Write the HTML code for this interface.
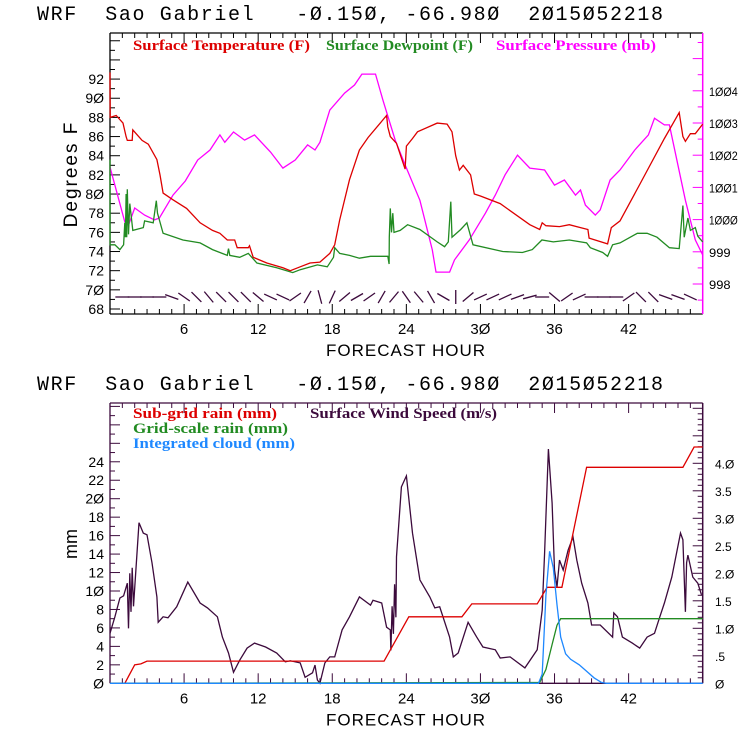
<!DOCTYPE html>
<html><head><meta charset="utf-8"><style>
body{margin:0;background:#fff;}
svg{display:block;}
text{font-family:"Liberation Sans",sans-serif;}
text.ttl{font-family:"Liberation Mono",monospace;white-space:pre;}
.lg{font-family:"Liberation Serif",serif;font-weight:bold;font-size:15px;}
</style></head><body>
<svg id="c" width="740" height="740" viewBox="0 0 740 740">
<rect width="740" height="740" fill="#fff"/>
</svg>
<script>
// ---- data: top panel ----
const tempH=[0,0.02,0.5,1.05,1.3,1.4,1.8,1.85,2.6,3.1,3.8,4.05,4.3,5.1,6.2,7.3,8.3,8.9,9.5,10.1,10.3,11.2,11.3,11.6,12.7,14.0,14.6,15.4,16.2,17.0,17.8,18.2,18.6,19.4,20.2,20.9,22.4,22.5,22.7,23.2,23.9,24.0,24.5,24.9,26.5,27.3,27.7,28.0,28.3,28.6,29.2,29.5,30.0,31.6,34.0,34.8,35.0,35.3,36.4,37.2,38.1,38.7,38.8,40.3,40.6,41.3,42.9,44.9,46.1,46.4,46.6,47.0,47.4,48];
const tempF=[92.7,88,88.2,87.4,86,85.6,85.6,86.7,85.6,85.2,83.6,82,80.1,79.4,78.5,77,76.2,75.9,75.2,75.2,74.4,74.4,74.6,73.4,72.8,72.3,72.0,72.4,72.8,72.9,73.8,74.7,77.3,81.5,84.6,85.9,88.2,87,86,85.3,82.6,85,85.8,86.5,87.4,87.3,86.5,84,82.5,83,82,80,79.8,79,76.8,76.3,77,76.7,76.6,76.8,76.5,76.3,75.4,74.8,76.5,77.2,81,85.8,88.5,86,85.5,86.3,86.3,87.3];
const dewH=[0,0.01,0.4,0.8,1.1,1.2,1.25,1.3,1.35,1.4,1.5,1.6,1.85,2.7,2.8,3.5,3.75,3.85,4.3,5.9,7.3,8.3,9.5,9.6,9.7,10.5,11.2,11.9,13.5,14.8,15.4,16.8,17.6,18.1,18.2,18.6,19.4,20.2,21.1,22.5,22.6,22.62,22.7,22.8,22.9,23.0,23.5,24.1,25.1,26.5,27.1,27.4,27.6,27.7,28.4,28.9,29.4,31.8,33.4,34.2,34.98,35.9,37.2,38.6,38.9,39.9,40.3,40.7,41.3,42.7,43.5,44.3,45.3,46.1,46.4,46.5,46.8,47.0,47.4,47.6,48];
const dewF=[83.6,74.7,74.7,74.2,74.7,77,75.5,80,75.5,80.5,75.8,79,76.2,76.5,77.2,77,79.3,78,75.9,75.2,74.9,74.2,73.6,74.3,73.6,73.4,73.8,72.8,72.3,71.8,72.1,72.6,72.4,73.4,74.4,73.8,73.6,73.3,73.5,73.5,72.7,75.5,78.5,76,78,76,76.2,76.8,76.3,75,74.5,75,79.2,75.5,76.3,77,74.7,74,73.9,74.2,75.2,75,75.2,74.9,74.4,73.9,73.5,74.7,74.9,75.9,75.9,75.5,74.4,74.3,78.8,75.5,77.5,76.2,76.5,75.6,75];
const presH=[0,1.2,1.5,2.0,2.8,3.6,4.0,5.1,6.1,7.1,8.1,8.9,9.3,10.0,10.9,11.7,13.0,14.0,15.0,16.0,16.6,17.0,17.8,19.0,19.8,20.4,21.5,22.1,23.1,23.9,25.1,26.1,26.4,27.5,27.9,29.1,30.4,31.2,32.0,33.0,34.0,35.2,36.0,36.8,37.7,38.1,38.5,39.3,39.7,40.5,41.3,42.5,43.6,44.1,44.9,45.3,46.6,47.4,48];
const presMb=[1001.63,999.93,999.83,1000.36,1000.14,999.99,1000.05,1000.76,1001.2,1001.85,1002.16,1002.63,1002.4,1002.72,1002.47,1002.63,1002.1,1001.6,1001.85,1002.32,1002.16,1002.4,1003.4,1003.93,1004.18,1004.52,1004.52,1003.71,1002.47,1001.7,1000.6,999.06,998.37,998.37,998.75,999.37,1000.2,1000.76,1001.39,1002.0,1001.6,1001.54,1001.07,1001.23,1000.76,1000.92,1000.45,1000.14,1000.3,1001.23,1001.54,1002.16,1002.63,1003.15,1002.94,1002.94,1000.6,999.37,998.9];
const barbH=[1,2,3,4,5,6,7,8,9,10,11,12,13,14,15,16,17,18,19,20,21,22,23,24,25,26,27,28,29,30,31,32,33,34,35,36,37,38,39,40,41,42,43,44,45,46,47];
const barbDir=[0,0,0,0,-20,-35,-45,-50,-45,-45,-45,-40,-25,-25,35,60,-75,65,40,30,35,60,50,-55,-50,-60,-30,90,40,25,25,25,20,15,0,-40,35,25,0,0,0,35,-45,-45,-20,-20,-25];
const yTicksF=[68,70,72,74,76,78,80,82,84,86,88,90,92];
const yTicksMb=[998,999,1000,1001,1002,1003,1004];
const xTicks=[6,12,18,24,30,36,42];
// ---- data: bottom panel ----
const subH=[0,1.2,2.0,2.5,3.0,22.2,24.2,28.5,29.3,34.6,35.4,36.6,38.6,46.4,47.3,48];
const subMm=[0,0,2.0,2.1,2.4,2.4,7.2,7.2,8.6,8.6,10.4,10.4,23.4,23.4,25.6,25.6];
const gridH=[0,34.8,35.3,35.8,36.2,36.5,48];
const gridMm=[0,0.1,1.5,4.2,6.3,7.0,7.0];
const cloudH=[0,34.7,35.0,35.3,35.6,35.9,36.2,36.5,36.9,37.3,38.0,38.6,39.2,39.8,40.2,48];
const cloudMm=[0,0,1.0,9.5,14.3,12.5,8.5,5.0,3.2,2.6,2.0,1.3,0.6,0.1,0,0];
const windH=[0,0.4,0.8,1.1,1.4,1.5,1.6,1.7,1.8,1.9,2.35,2.7,3.0,3.4,3.8,3.9,4.3,4.7,5.4,6.3,7.3,7.9,8.7,9.1,9.6,10.0,10.5,11.1,11.7,12.6,13.5,14.2,14.6,15.4,15.8,16.4,16.6,16.8,17.0,17.4,17.8,18.2,18.8,19.4,20.2,21.1,21.3,22.0,22.4,22.7,22.75,22.85,22.95,23.05,23.15,23.2,23.6,24.0,24.5,25.1,25.9,26.3,26.7,27.5,27.8,28.2,29.0,29.7,30.2,31.2,31.6,32.4,33.6,34.6,35.0,35.2,35.5,35.8,36.0,36.2,36.4,36.7,37.1,37.5,37.8,38.2,38.7,39.0,39.7,40.7,40.8,41.1,41.5,42.3,42.9,43.5,44.1,44.5,44.9,45.5,46.2,46.4,46.6,46.7,46.8,47.2,47.6,47.9];
const windMs=[0.91,1.21,1.55,1.59,1.82,1.0,2.0,1.3,2.1,1.4,2.92,2.73,2.70,2.19,1.57,1.11,1.21,1.19,1.39,1.84,1.46,1.37,1.21,0.84,0.55,0.20,0.42,0.64,0.73,0.66,0.55,0.39,0.41,0.37,0.11,0.19,0.33,0.06,0.0,0.37,0.48,0.48,0.97,1.21,1.57,1.42,1.51,1.46,1.02,0.97,0.6,1.4,0.9,1.8,1.2,2.30,3.57,3.77,2.73,1.88,1.57,1.37,1.39,0.84,0.48,0.55,1.11,0.84,0.66,0.61,0.46,0.48,0.28,0.61,1.33,2.37,4.26,3.28,2.06,1.75,2.24,2.06,2.42,2.66,2.24,1.82,1.46,1.06,1.06,0.84,1.28,1.21,0.84,0.73,0.64,0.84,0.91,1.19,1.46,1.93,2.73,2.61,1.30,2.19,2.33,1.93,1.82,1.61];
const yTicksMm=[0,2,4,6,8,10,12,14,16,18,20,22,24];
const yTicksWind=[0,0.5,1.0,1.5,2.0,2.5,3.0,3.5,4.0];
const windLabels=['0','.5','1.0','1.5','2.0','2.5','3.0','3.5','4.0'];

const svg=document.getElementById('c');
const NS='http://www.w3.org/2000/svg';
function mk(tag,attrs,parent){const e=document.createElementNS(NS,tag);for(const k in attrs)e.setAttribute(k,attrs[k]);(parent||svg).appendChild(e);return e;}
const X0=110,X1=702.7;
const sx=h=>X0+h*(X1-X0)/48;
const syF=v=>309-(v-68)*9.58;
const syMb=v=>284-(v-998)*32.2;
const syMm=v=>683.3-v*9.23;
const syW=v=>683.3-v*55;
const z=s=>String(s).replace(/0/g,'Ø');

function title(y,name){
  const t=mk('text',{x:37,y:y,'font-size':'20',class:'ttl','textLength':626,'lengthAdjust':'spacing',fill:'#000'});
  
  
  t.textContent='WRF  Sao Gabriel   -Ø.15Ø, -66.98Ø  2Ø15Ø52218';
}
function line(hs,vs,fx,fy,color,name,g){
  let d='';for(let i=0;i<hs.length;i++){d+=(i?'L':'M')+fx(hs[i]).toFixed(1)+','+fy(vs[i]).toFixed(1);}
  const p=mk('path',{d:d,fill:'none',stroke:color,'stroke-width':1.3},g);
  
  
}
function frame(top,bot,leftColor,rightColor,topColor,name){
  const g=mk('g',{});
  
  
  mk('line',{x1:X0,y1:top,x2:X1,y2:top,stroke:topColor,'stroke-width':1.3},g);
  mk('line',{x1:X0,y1:bot,x2:X1,y2:bot,stroke:topColor,'stroke-width':1.3},g);
  mk('line',{x1:X0,y1:top,x2:X0,y2:bot,stroke:leftColor,'stroke-width':1.3},g);
  mk('line',{x1:X1,y1:top,x2:X1,y2:bot,stroke:rightColor,'stroke-width':1.5},g);
  for(let h=1;h<48;h++){
    const big=h%6===0;
    mk('line',{x1:sx(h),y1:bot,x2:sx(h),y2:bot-(big?10:5),stroke:topColor},g);
    mk('line',{x1:sx(h),y1:top,x2:sx(h),y2:top+(big?10:5),stroke:topColor},g);
  }
  for(const t of xTicks){
    const tx=mk('text',{x:sx(t),y:bot+20,'font-size':'15','text-anchor':'middle',fill:'#000'});
    
    
    tx.textContent=z(t);
  }
  const xt=mk('text',{x:406,y:bot+42,'font-size':'17','text-anchor':'middle',fill:'#000','letter-spacing':'1'});
  
  
  xt.textContent='FORECAST HOUR';
  return g;
}

// ===== TOP PANEL =====
title(20,'top-title');
const gt=frame(33,314,'#000','#ff00ff','#000','top-axes');
for(let v=68;v<=96;v++){
  const big=v%2===0;
  mk('line',{x1:X0,y1:syF(v),x2:X0+(big?10:5),y2:syF(v),stroke:'#000'},gt);
}
for(const v of yTicksF){
  const t=mk('text',{x:104,y:syF(v)+5,'font-size':'14','text-anchor':'end',fill:'#000'});
  
  
  t.textContent=z(v);
}
for(let v=997.5;v<=1005.5;v+=0.5){
  if(syMb(v)<34||syMb(v)>313)continue;
  const big=Math.abs(v-Math.round(v))<0.01;
  mk('line',{x1:X1,y1:syMb(v),x2:X1-(big?10:5),y2:syMb(v),stroke:'#ff00ff'},gt);
}
for(const v of yTicksMb){
  const s=z(v);
  const t=mk('text',{x:709,y:syMb(v)+5,'font-size':'12',fill:'#000','textLength':s.length*7.2,'lengthAdjust':'spacingAndGlyphs'});
  
  
  t.textContent=s;
}
const yl=mk('text',{x:0,y:0,'font-size':'19','text-anchor':'middle',fill:'#000',transform:'translate(77,174) rotate(-90)','letter-spacing':'2'});


yl.textContent='Degrees F';
const legT=[['Surface Temperature (F)','#dd0000',133,177,'legend-temperature'],['Surface Dewpoint (F)','#228b22',326,147,'legend-dewpoint'],['Surface Pressure (mb)','#ff00ff',496,160,'legend-pressure']];
for(const L of legT){
  const t=mk('text',{x:L[2],y:50,class:'lg',fill:L[1],'textLength':L[3],'lengthAdjust':'spacingAndGlyphs'});
  
  
  t.textContent=L[0];
}
line(presH,presMb,sx,syMb,'#ff00ff','pressure-line');
line(dewH,dewF,sx,syF,'#228b22','dewpoint-line');
line(tempH,tempF,sx,syF,'#dd0000','temperature-line');
const gb=mk('g',{});


for(let i=0;i<barbH.length;i++){
  const a=barbDir[i]*Math.PI/180, L=7, cx=sx(barbH[i]), cy=297;
  const dx=Math.cos(a)*L, dy=-Math.sin(a)*L;
  const b=mk('line',{x1:cx-dx,y1:cy-dy,x2:cx+dx,y2:cy+dy,stroke:'#3c0a3c','stroke-width':1.3},gb);
  
  
}

// ===== BOTTOM PANEL =====
title(390,'bottom-title');
const gbm=frame(403,683.3,'#3c0a3c','#3c0a3c','#3c0a3c','bottom-axes');
for(let v=0;v<=30;v++){
  if(syMm(v)<404)continue;
  const big=v%2===0;
  mk('line',{x1:X0,y1:syMm(v),x2:X0+(big?10:5),y2:syMm(v),stroke:'#3c0a3c'},gbm);
}
for(const v of yTicksMm){
  const t=mk('text',{x:104,y:syMm(v)+5,'font-size':'14','text-anchor':'end',fill:'#000'});
  
  
  t.textContent=z(v);
}
for(let v=0.1;v<5.1;v+=0.1){
  if(syW(v)<404)continue;
  const big=Math.abs(v*2-Math.round(v*2))<0.01;
  mk('line',{x1:X1,y1:syW(v),x2:X1-(big?10:5),y2:syW(v),stroke:'#3c0a3c'},gbm);
}
for(let i=0;i<yTicksWind.length;i++){
  const t=mk('text',{x:715,y:syW(yTicksWind[i])+5,'font-size':'12',fill:'#000'});
  
  
  t.textContent=z(windLabels[i]);
}
const yl2=mk('text',{x:0,y:0,'font-size':'18','text-anchor':'middle',fill:'#000',transform:'translate(77,544) rotate(-90)'});


yl2.textContent='mm';
const legB=[['Sub-grid rain (mm)','#dd0000',133,418,144,'legend-subgrid-rain'],['Surface Wind Speed (m/s)','#3c0a3c',310,418,187,'legend-wind-speed'],['Grid-scale rain (mm)','#228b22',133,433,155,'legend-gridscale-rain'],['Integrated cloud (mm)','#1e88ff',133,448,162,'legend-integrated-cloud']];
for(const L of legB){
  const t=mk('text',{x:L[2],y:L[3],class:'lg',fill:L[1],'textLength':L[4],'lengthAdjust':'spacingAndGlyphs'});
  
  
  t.textContent=L[0];
}
line(windH,windMs,sx,syW,'#3c0a3c','wind-speed-line');
line(subH,subMm,sx,syMm,'#dd0000','subgrid-rain-line');
line(gridH,gridMm,sx,syMm,'#228b22','gridscale-rain-line');
line(cloudH,cloudMm,sx,syMm,'#1e88ff','integrated-cloud-line');
</script>
</body></html>
